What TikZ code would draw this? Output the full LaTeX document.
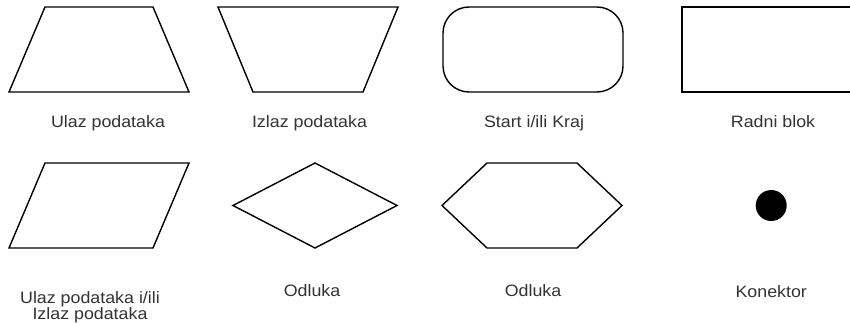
\documentclass[tikz,border=0pt]{standalone}
\usepackage{fontspec}
\setmainfont{Liberation Sans}[FakeStretch=1.08]
\usepackage{xcolor}
\usepackage{tikz}
\usetikzlibrary{positioning}

\definecolor{labelgray}{HTML}{333333}

\begin{document}
\begin{tikzpicture}[x=1pt, y=1pt, node distance=0mm,
  frame/.style={minimum width=180pt, minimum height=85pt, inner sep=0pt, outer sep=0pt},
  outline/.style={draw, line width=1.4pt, line join=miter},
  caption/.style={font=\fontsize{16.5}{16}\selectfont, text=labelgray, inner sep=0pt, align=center},
  oneline/.style={caption, text height=12pt, text depth=4pt}]

  \useasboundingbox (0,0) rectangle (850,322);
  \clip (0,0) rectangle (850,322);

  % first row
  \node[frame] (ulaz) at (99,272.5) {};
  \node[frame, right=29pt of ulaz] (izlaz) {};
  \node[frame, outline, rounded corners=26pt, right=45pt of izlaz] (start) {};
  \node[frame, outline, right=59pt of start] (radni) {};

  \draw[outline] (ulaz.south west) -- ([xshift=36pt]ulaz.north west) -- ([xshift=-36pt]ulaz.north east) -- (ulaz.south east) -- cycle;
  \draw[outline] (izlaz.north west) -- (izlaz.north east) -- ([xshift=-35pt]izlaz.south east) -- ([xshift=35pt]izlaz.south west) -- cycle;

  % second row
  \node[frame, below=71pt of ulaz] (ulazizlaz) {};
  \node[frame, minimum width=164pt, right=44pt of ulazizlaz] (odluka) {};
  \node[frame, right=45pt of odluka] (hex) {};
  \node[circle, fill=black, minimum size=31pt, inner sep=0pt, right=133.5pt of hex] (kon) {};

  \draw[outline] (ulazizlaz.south west) -- ([xshift=36pt]ulazizlaz.north west) -- (ulazizlaz.north east) -- ([xshift=-36pt]ulazizlaz.south east) -- cycle;
  \draw[outline] (odluka.west) -- (odluka.north) -- (odluka.east) -- (odluka.south) -- cycle;
  \draw[outline] (hex.west) -- ([xshift=45pt]hex.north west) -- ([xshift=-45pt]hex.north east)
    -- (hex.east) -- ([xshift=-45pt]hex.south east) -- ([xshift=45pt]hex.south west) -- cycle;

  % labels
  \node[oneline, below=23pt of ulaz, xshift=9pt] (lulaz) {Ulaz podataka};
  \node[oneline, below=23pt of izlaz, xshift=1.5pt] (lizlaz) {Izlaz podataka};
  \node[oneline, below=23pt of start, xshift=1pt] (lstart) {Start i/ili Kraj};
  \node[oneline, below=23pt of radni, xshift=1pt] (lradni) {Radni blok};

  \node[caption, below=43pt of ulazizlaz, xshift=-9pt] (lulazizlaz) {Ulaz podataka i/ili\\Izlaz podataka};
  \node[oneline, below=36pt of odluka, xshift=-3pt] (lodluka) {Odluka};
  \node[oneline, below=36pt of hex, xshift=1pt] (lhex) {Odluka};
  \node[oneline, below=64pt of kon] (lkon) {Konektor};
\end{tikzpicture}
\end{document}
